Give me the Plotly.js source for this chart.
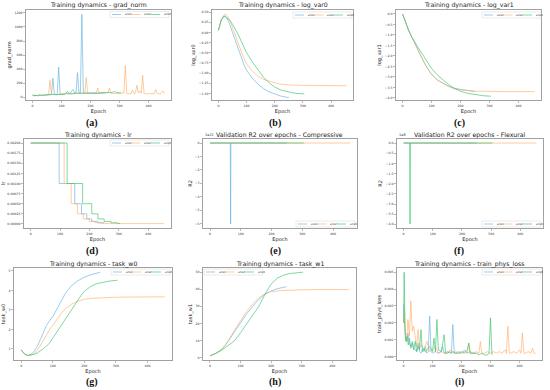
<!DOCTYPE html>
<html><head><meta charset="utf-8">
<script src="https://cdn.plot.ly/plotly-3.0.1.min.js"></script>
<style>html,body{margin:0;padding:0;background:#fff}#c{width:550px;height:390px}</style>
</head><body><div id="c"></div>
<script>
// ---------------- DATA ----------------
const seriesNames = ['ens1','ens2','ens3'];
const panelTitles = ['Training dynamics - grad_norm','Training dynamics - log_var0','Training dynamics - log_var1',
  'Training dynamics - lr','Validation R2 over epochs - Compressive','Validation R2 over epochs - Flexural',
  'Training dynamics - task_w0','Training dynamics - task_w1','Training dynamics - train_phys_loss'];
const yLabels = ['grad_norm','log_var0','log_var1','lr','R2','R2','task_w0','task_w1','train_phys_loss'];
const panelLetters = ['(a)','(b)','(c)','(d)','(e)','(f)','(g)','(h)','(i)'];
const xLabel = 'Epoch';

// (a) grad_norm
const gradX1 = [0,10,20,30,40,50,60,65,70,75,80,85,90,95,100,110,120,130,135,140,145,150,155,160,165,170,175,180,190,200,210,220,230,240,250];
const gradY1 = [25,22,20,25,30,28,35,40,270,45,40,35,430,40,45,50,60,55,90,110,60,65,350,70,60,1180,70,60,55,60,50,55,60,55,58];
const gradX2 = [0,10,20,30,40,50,55,60,65,70,80,90,100,110,120,130,140,150,160,170,180,185,190,200,210,220,225,230,240,250,260,265,270,280,290,300,310,315,320,325,330,340,345,350,355,360,365,370,375,380,385,390,400,410,420,425,430,435,440,450,455];
const gradY2 = [20,18,22,25,30,28,35,240,40,35,40,45,40,50,45,55,50,60,55,60,55,280,60,55,60,65,130,55,60,55,60,130,55,50,50,55,50,60,450,55,50,50,100,50,60,170,60,90,55,310,50,45,50,45,50,110,55,50,45,90,50];
const gradX3 = [0,10,20,25,30,40,50,60,70,80,90,100,110,115,120,125,130,140,150,160,170,180,190,200,210,220,230,240,250,260,270,280,285,290,300,305];
const gradY3 = [30,25,20,45,25,30,35,30,40,35,40,45,40,60,85,45,50,50,55,55,60,60,65,60,60,65,60,70,65,60,65,75,80,65,60,60];

// (b) log_var0
const lv0X1 = [0,10,20,25,30,40,50,60,70,80,90,100,120,140,160,180,200,220,240,250];
const lv0Y1 = [0.05,0.3,0.4,0.4,0.35,0.2,0.0,-0.2,-0.4,-0.6,-0.78,-0.93,-1.12,-1.27,-1.38,-1.46,-1.52,-1.56,-1.59,-1.6];
const lv0X2 = [0,10,20,25,30,40,50,60,70,80,90,100,120,140,160,180,200,220,250,300,350,400,455];
const lv0Y2 = [0.05,0.32,0.43,0.45,0.42,0.3,0.12,-0.08,-0.28,-0.45,-0.62,-0.77,-0.95,-1.07,-1.15,-1.2,-1.24,-1.27,-1.29,-1.3,-1.3,-1.31,-1.31];
const lv0X3 = [0,10,20,30,40,50,60,70,80,90,100,120,140,160,180,200,220,240,260,280,305];
const lv0Y3 = [0.05,0.3,0.4,0.36,0.3,0.2,0.08,-0.05,-0.2,-0.35,-0.5,-0.72,-0.92,-1.1,-1.24,-1.34,-1.41,-1.45,-1.48,-1.5,-1.51];

// (c) log_var1
const lv1X1 = [0,10,20,30,40,50,60,70,80,90,100,120,140,160,180,200,220,250];
const lv1Y1 = [0,-0.4,-0.75,-1.05,-1.35,-1.6,-1.9,-2.2,-2.45,-2.68,-2.87,-3.15,-3.32,-3.45,-3.55,-3.6,-3.65,-3.7];
const lv1X2 = [0,10,20,30,40,50,60,70,80,90,100,120,140,160,180,200,250,300,350,400,455];
const lv1Y2 = [0,-0.4,-0.75,-1.05,-1.35,-1.62,-1.92,-2.2,-2.47,-2.7,-2.88,-3.15,-3.33,-3.47,-3.57,-3.62,-3.68,-3.7,-3.7,-3.7,-3.7];
const lv1X3 = [0,10,20,30,40,50,60,70,80,90,100,120,140,160,180,200,220,250,280,305];
const lv1Y3 = [0,-0.4,-0.75,-1.05,-1.3,-1.5,-1.75,-1.95,-2.15,-2.4,-2.6,-2.9,-3.15,-3.38,-3.55,-3.68,-3.77,-3.85,-3.9,-3.92];

// (d) lr (step changes)
const lrX1 = [0,97,150,173,191,208,229,250];
const lrY1 = [0.002,0.001,0.0005,0.00025,0.000125,0.0000625,0.00003,0.00003];
const lrX2 = [0,114,138,159,179,199,220,240,260,455];
const lrY2 = [0.002,0.001,0.0005,0.00025,0.000125,0.0000625,0.00003,0.000015,0.000008,0.000008];
const lrX3 = [0,124,177,208,229,250,273,295,305];
const lrY3 = [0.002,0.001,0.0005,0.00025,0.000125,0.0000625,0.00003,0.000015,0.000015];

// (e) validation R2 compressive
const r2cX1 = [0,66,67,68,250];
const r2cY1 = [0,0,-6.02e21,0,0];
const r2cX2 = [0,455];
const r2cY2 = [0,0];
const r2cX3 = [0,305];
const r2cY3 = [0,0];

// (f) validation R2 flexural
const r2fX1 = [0,250];
const r2fY1 = [0,0];
const r2fX2 = [0,455];
const r2fY2 = [0,0];
const r2fX3 = [0,21,22,23,305];
const r2fY3 = [0,0,-3.98e8,0,0];

// (g) task_w0
const w0X1 = [0,10,20,30,40,50,60,70,80,90,100,110,120,130,140,150,160,180,200,220,240,250];
const w0Y1 = [0.95,0.75,0.66,0.7,0.85,1.1,1.45,1.85,2.2,2.45,2.65,2.95,3.25,3.55,3.85,4.05,4.25,4.5,4.68,4.8,4.9,4.93];
const w0X2 = [0,10,20,30,40,50,60,70,80,90,100,110,120,130,140,150,160,180,200,230,260,300,350,400,455];
const w0Y2 = [0.95,0.75,0.65,0.66,0.75,0.9,1.15,1.45,1.75,2.0,2.2,2.45,2.7,2.9,3.05,3.18,3.3,3.45,3.55,3.6,3.63,3.65,3.66,3.67,3.67];
const w0X3 = [0,10,20,30,40,50,60,70,80,90,100,110,120,130,140,150,160,170,180,190,200,220,240,260,280,305];
const w0Y3 = [0.95,0.75,0.67,0.68,0.72,0.78,0.88,1.0,1.15,1.3,1.55,1.8,2.05,2.3,2.55,2.8,3.05,3.3,3.5,3.75,3.95,4.2,4.35,4.43,4.48,4.52];

// (h) task_w1
const w1X1 = [0,20,40,60,80,100,120,140,160,180,200,220,250];
const w1Y1 = [1,2.5,5,9.5,15,20.5,25.5,30,34,37,39,40.3,41.5];
const w1X2 = [0,20,40,60,80,100,120,140,160,180,200,230,260,300,350,400,455];
const w1Y2 = [1,2.5,4.8,10,16,21.5,27,31.5,35,37.5,38.6,39.2,39.5,39.7,39.8,39.8,39.8];
const w1X3 = [0,20,40,60,80,100,120,140,160,180,200,220,240,260,280,305];
const w1Y3 = [1,2.5,4.5,7,9.8,14.5,19.5,24.5,30,37,43,46.5,48.2,49.2,49.7,50];

// (i) train_phys_loss
const plX1 = [0,3,6,10,15,20,25,30,35,40,45,50,55,60,65,70,75,80,85,90,95,100,110,120,130,135,140,150,160,165,170,175,180,190,200,210,220,230,240,250];
const plY1 = [.0031,.0018,.0012,.0009,.0014,.0007,.0006,.0009,.0005,.0004,.0003,.0008,.0003,.0002,.0004,.0003,.0006,.0002,.0003,.0024,.0003,.0002,.0003,.0002,.0003,.0006,.0002,.0002,.0003,.0002,.0019,.0002,.0002,.0003,.0002,.0004,.0002,.0003,.0002,.0002];
const plX2 = [0,3,6,10,15,20,25,30,35,40,45,50,55,60,70,80,90,100,110,120,130,140,150,160,170,180,190,200,210,220,225,230,240,250,260,265,270,280,290,300,310,320,330,340,350,355,360,365,370,380,390,400,405,410,415,420,430,440,445,450,455];
const plY2 = [.002,.0028,.0015,.0009,.0022,.0012,.0033,.0015,.0018,.0012,.0006,.0016,.0005,.0007,.0004,.0009,.0003,.0004,.0006,.0002,.0003,.0002,.0002,.0004,.0002,.0003,.0002,.0002,.0003,.0002,.0008,.0002,.0002,.0003,.0002,.0009,.0002,.0002,.0003,.0002,.0003,.0002,.0003,.0002,.0004,.0002,.0018,.0002,.0002,.0003,.0002,.0004,.0002,.0014,.0002,.0002,.0003,.0002,.0005,.0002,.0002];
const plX3 = [0,2,5,8,12,16,20,25,30,35,40,45,50,55,60,65,70,75,80,90,100,105,110,115,120,130,140,145,150,160,170,180,190,200,210,220,225,230,240,250,260,270,280,290,295,300,305];
const plY3 = [.002,.005,.0015,.0009,.0012,.0007,.0011,.0005,.0008,.0004,.0009,.0003,.0006,.0004,.0016,.0003,.0005,.0003,.0004,.0006,.0003,.0011,.0003,.0022,.0004,.0003,.0013,.0002,.0003,.0002,.0003,.0002,.0002,.0003,.0002,.0004,.0008,.0002,.0002,.0002,.0001,.0002,.0001,.0001,.0002,.0023,.0001];

// ---------------- LAYOUT / STYLE ----------------
const W = 550, H = 390;
const colors = ['rgba(100,180,228,0.65)','rgba(255,170,95,0.6)','rgba(60,195,110,0.65)'];
const fx = p => p / W, fy = p => 1 - p / H;

const panelData = [
  [[gradX1,gradY1],[gradX2,gradY2],[gradX3,gradY3]],
  [[lv0X1,lv0Y1],[lv0X2,lv0Y2],[lv0X3,lv0Y3]],
  [[lv1X1,lv1Y1],[lv1X2,lv1Y2],[lv1X3,lv1Y3]],
  [[lrX1,lrY1],[lrX2,lrY2],[lrX3,lrY3]],
  [[r2cX1,r2cY1],[r2cX2,r2cY2],[r2cX3,r2cY3]],
  [[r2fX1,r2fY1],[r2fX2,r2fY2],[r2fX3,r2fY3]],
  [[w0X1,w0Y1],[w0X2,w0Y2],[w0X3,w0Y3]],
  [[w1X1,w1Y1],[w1X2,w1Y2],[w1X3,w1Y3]],
  [[plX1,plY1],[plX2,plY2],[plX3,plY3]]
];

// plot boxes in pixels [left, top, right, bottom]
const boxes = [
  [26,10,171,100],[212,10,353,100],[396,10,541,100],
  [24,139,171,228],[203,139,357,228],[397,139,543,228],
  [14,268,172,360],[203,268,356,360],[397,268,542,360]
];
const legendPos = [[110,11.5],[293,12],[482,12],[110,140],[296,221],[482,221],[111,269],[204,269],[482,269]];
const letterPos = [[92,123],[275,123],[459,123],[92,251],[275,251],[459,251],[92,382],[275,382],[459,382]];

const yAxisCfg = [
  {range:[-40,1242], dtick:200, tick0:0},
  {range:[-1.66,0.55], dtick:0.25, tick0:0, tickformat:'.2f'},
  {range:[-4.1,0.19], dtick:0.5, tick0:0, tickformat:'.1f'},
  {range:[-0.0001,0.0021], dtick:0.00025, tick0:0, tickformat:'.5f'},
  {range:[-6.32e21,0.3e21], tickvals:[-6e21,-5e21,-4e21,-3e21,-2e21,-1e21,0], ticktext:['\u22126','\u22125','\u22124','\u22123','\u22122','\u22121','0']},
  {range:[-4.18e8,0.2e8], tickvals:[-4e8,-3.5e8,-3e8,-2.5e8,-2e8,-1.5e8,-1e8,-0.5e8,0], ticktext:['\u22124.0','\u22123.5','\u22123.0','\u22122.5','\u22122.0','\u22121.5','\u22121.0','\u22120.5','0.0']},
  {range:[0.43,5.15], dtick:1, tick0:0},
  {range:[-1.45,52.45], dtick:10, tick0:0},
  {range:[-0.0002,0.00525], dtick:0.001, tick0:0, tickformat:'.3f'}
];

const traces = [];
const layout = {
  width: W, height: H, margin:{l:0,r:0,t:0,b:0},
  paper_bgcolor:'#fff', plot_bgcolor:'#fff', showlegend:false,
  font:{family:'DejaVu Sans, sans-serif', color:'#222'},
  annotations:[], shapes:[]
};

const axisLine = '#8a8a8a';
const tickFont = {size:3.2, color:'#333', family:'DejaVu Sans, sans-serif'};

panelData.forEach((pd, i) => {
  const n = i + 1;
  const xa = 'x' + (n === 1 ? '' : n), ya = 'y' + (n === 1 ? '' : n);
  pd.forEach((s, k) => {
    traces.push({
      x: s[0], y: s[1], xaxis: xa, yaxis: ya, type:'scatter', mode:'lines',
      name: seriesNames[k], hoverinfo:'skip',
      line:{color: colors[k], width: 1, shape: i === 3 ? 'hv' : 'linear'}
    });
  });
  const b = boxes[i];
  layout['xaxis' + (n === 1 ? '' : n)] = {
    domain:[fx(b[0]), fx(b[2])], anchor: ya, range:[-22.75,477.75],
    tickvals:[0,100,200,300,400], showgrid:false, zeroline:false,
    showline:true, mirror:true, linecolor:axisLine, linewidth:0.8,
    ticks:'outside', ticklen:2, tickwidth:0.6, tickcolor:axisLine,
    tickfont: tickFont,
    title:{text:xLabel, font:{size:5, color:'#222'}, standoff:2}
  };
  layout['yaxis' + (n === 1 ? '' : n)] = Object.assign({
    domain:[fy(b[3]), fy(b[1])], anchor: xa, showgrid:false, zeroline:false,
    showline:true, mirror:true, linecolor:axisLine, linewidth:0.8,
    ticks:'outside', ticklen:2, tickwidth:0.6, tickcolor:axisLine,
    tickfont: tickFont,
    title:{text:yLabels[i], font:{size:5, color:'#222'}, standoff:2}
  }, yAxisCfg[i]);

  // subplot title
  layout.annotations.push({
    xref:'paper', yref:'paper', x: fx((b[0]+b[2])/2), y: fy(b[1]-4.5),
    xanchor:'center', yanchor:'middle', showarrow:false,
    text: panelTitles[i], font:{size:6.2, color:'#1a1a1a'}
  });
  // panel letter
  layout.annotations.push({
    xref:'paper', yref:'paper', x: fx(letterPos[i][0]), y: fy(letterPos[i][1]),
    xanchor:'center', yanchor:'middle', showarrow:false,
    text: '<b>' + panelLetters[i] + '</b>',
    font:{size:10, color:'#111', family:'Liberation Serif, serif'}
  });
  // legend box (drawn as decoration)
  const lp = legendPos[i];
  const lw = 59, lh = 6;
  layout.shapes.push({type:'rect', xref:'paper', yref:'paper',
    x0: fx(lp[0]), x1: fx(lp[0]+lw), y0: fy(lp[1]+lh), y1: fy(lp[1]),
    line:{color:'#ddd', width:0.6}, fillcolor:'rgba(255,255,255,0.85)'});
  seriesNames.forEach((nm, k) => {
    const ex = lp[0] + 2 + k*19.5;
    layout.shapes.push({type:'line', xref:'paper', yref:'paper',
      x0: fx(ex), x1: fx(ex+9), y0: fy(lp[1]+lh/2), y1: fy(lp[1]+lh/2),
      line:{color: colors[k], width:1}});
    layout.annotations.push({xref:'paper', yref:'paper', x: fx(ex+10.5), y: fy(lp[1]+lh/2),
      xanchor:'left', yanchor:'middle', showarrow:false, text: nm,
      font:{size:2.8, color:'#333'}});
  });
});

// exponent labels for R2 panels
layout.annotations.push({xref:'paper', yref:'paper', x: fx(boxes[4][0]), y: fy(boxes[4][1]-0.5),
  xanchor:'left', yanchor:'bottom', showarrow:false, text:'1e21', font:{size:3.5, color:'#333'}});
layout.annotations.push({xref:'paper', yref:'paper', x: fx(boxes[5][0]), y: fy(boxes[5][1]-0.5),
  xanchor:'left', yanchor:'bottom', showarrow:false, text:'1e8', font:{size:3.5, color:'#333'}});

Plotly.newPlot('c', traces, layout, {staticPlot:true, displayModeBar:false});
</script>
</body></html>
